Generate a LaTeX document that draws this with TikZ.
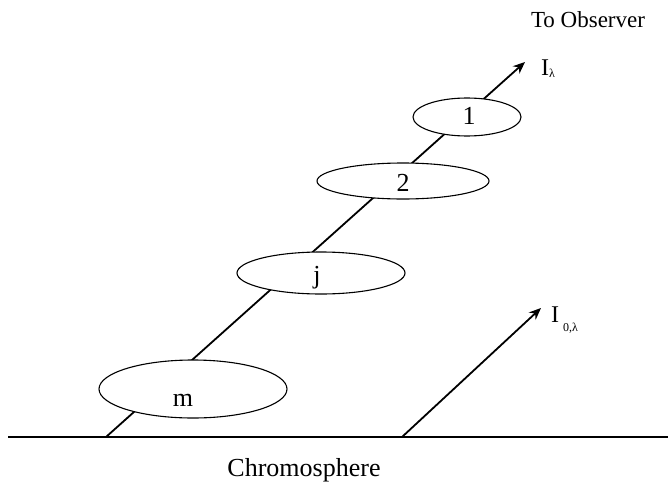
\documentclass[tikz,border=0pt]{standalone}
\usepackage{fontspec}
\setmainfont{Liberation Serif}
\usetikzlibrary{shapes.geometric,arrows.meta,positioning}

\begin{document}
\begin{tikzpicture}[
  x=1pt, y=-1pt,
  slab/.style={ellipse, draw, line width=1.1pt, fill=white, inner sep=0pt,
    text height=1.6ex, text depth=0.3ex, font=\fontsize{26}{26}\selectfont},
  ray/.style={-{Stealth[length=12pt,width=10pt,inset=4pt]}, line width=1.8pt},
  lbl/.style={inner sep=0pt, font=\fontsize{24}{24}\selectfont}
]
  \useasboundingbox (0,0) rectangle (668,495);

  % ground and rays
  \coordinate (gl) at (8,437);
  \coordinate (gr) at (668,437);
  \coordinate (base1) at (106,437);
  \coordinate (tip1) at (525,62);
  \coordinate (base2) at (402,437);
  \coordinate (tip2) at (541,308);

  \draw[line width=2.4pt] (gl) -- (gr);
  \draw[ray] (base1) -- (tip1);
  \draw[ray] (base2) -- (tip2);

  % layers along the line of sight
  \node[slab, minimum width=108pt, minimum height=38pt] (s1) at (467,117) {\hspace*{4pt}\raisebox{-5pt}{1}};
  \node[slab, minimum width=172pt, minimum height=36pt] (s2) at (403,181) {\raisebox{-8pt}{2}};
  \node[slab, minimum width=168pt, minimum height=42pt] (sj) at (321,273) {\hspace*{-8pt}\raisebox{-8pt}{j}};
  \node[slab, minimum width=188pt, minimum height=58pt] (sm) at (193,389) {\hspace*{-20pt}\raisebox{-15pt}{m}};

  \node[lbl, anchor=base west] (il) at (541,75) {I\raisebox{-2pt}{\fontsize{12}{12}\selectfont λ}};
  \node[lbl, anchor=base west] (i0l) at (551,322) {I\,\raisebox{-9pt}{\fontsize{12}{12}\selectfont 0,λ}};
  \node[font=\fontsize{23}{23}\selectfont] (obs) at (588,20) {To Observer};
  \node[font=\fontsize{26}{26}\selectfont] (chromo) at (304,470) {Chromosphere};
\end{tikzpicture}
\end{document}
